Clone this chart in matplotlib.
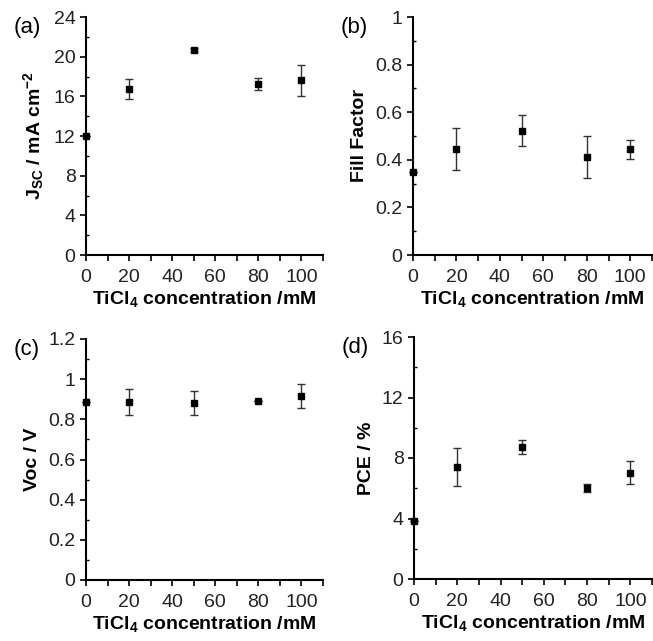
import numpy as np
import matplotlib.pyplot as plt
from matplotlib.ticker import MultipleLocator

plt.rcParams['font.family'] = ['Liberation Sans', 'DejaVu Sans']
plt.rcParams['mathtext.fontset'] = 'custom'
plt.rcParams['mathtext.rm'] = 'Liberation Sans'
plt.rcParams['mathtext.bf'] = 'Liberation Sans:bold'

# data
conc = [0, 20, 50, 80, 100]
jsc = [12.0, 16.7, 20.7, 17.2, 17.6]
jsc_err = [0.0, 1.0, 0.2, 0.6, 1.6]
ff = [0.35, 0.445, 0.522, 0.41, 0.445]
ff_err = [0.0, 0.087, 0.066, 0.088, 0.04]
voc = [0.887, 0.885, 0.880, 0.891, 0.916]
voc_err = [0.0, 0.065, 0.06, 0.0, 0.06]
pce = [3.86, 7.4, 8.72, 6.0, 7.03]
pce_err = [0.0, 1.28, 0.48, 0.25, 0.77]

panels = [
    ('(a)', jsc, jsc_err, r'$\mathbf{J_{SC}}$ / mA cm$^{\mathbf{-2}}$', 24, 4),
    ('(b)', ff, ff_err, 'Fill Factor', 1, 0.2),
    ('(c)', voc, voc_err, 'Voc / V', 1.2, 0.2),
    ('(d)', pce, pce_err, 'PCE / %', 16, 4),
]

W, H = 653, 641
fig = plt.figure(figsize=(W / 100, H / 100), dpi=100)
# axes boxes in pixels: left, top, right, bottom
boxes = [(86, 17, 323, 255), (413, 17, 652, 255),
         (86, 339, 323, 580), (414, 337, 652, 579)]

for (lab, y, err, ylab, ymax, ystep), (l, t, r, b) in zip(panels, boxes):
    ax = fig.add_axes([l / W, 1 - b / H, (r - l) / W, (b - t) / H])
    ax.errorbar(conc, y, yerr=err, fmt='s', color='black', markersize=4,
                ecolor='#333333', elinewidth=1, capsize=3, capthick=1,
                clip_on=False, zorder=3)
    ax.set_xlim(0, 110)
    ax.set_ylim(0, ymax)
    ax.spines['top'].set_visible(False)
    ax.spines['right'].set_visible(False)
    for s in ('left', 'bottom'):
        ax.spines[s].set_linewidth(1.5)
    ax.set_xticks(np.arange(0, 101, 20))
    ax.xaxis.set_minor_locator(MultipleLocator(10))
    ax.yaxis.set_major_locator(MultipleLocator(ystep))
    ax.yaxis.set_minor_locator(MultipleLocator(ystep / 2))
    ax.set_yticklabels(['{:g}'.format(round(v, 2)) for v in ax.get_yticks()])
    ax.tick_params(axis='both', which='major', direction='out', length=4,
                   width=1.2, labelsize=14, colors='black', labelcolor='#222222')
    ax.tick_params(axis='x', which='major', pad=6)
    ax.tick_params(axis='x', which='minor', direction='out', length=4, width=1.2)
    ax.tick_params(axis='y', which='minor', direction='in', length=2, width=1)
    ax.set_xlabel(r'TiCl$_{\mathbf{4}}$ concentration /mM', fontsize=14,
                  fontweight='bold', labelpad=3)
    ax.set_ylabel(ylab, fontsize=14, fontweight='bold', labelpad=5)
    fig.text((l - 72) / W, 1 - (t + 10) / H, lab, fontsize=16, va='center', ha='left')

fig.savefig('out.png', dpi=100)
